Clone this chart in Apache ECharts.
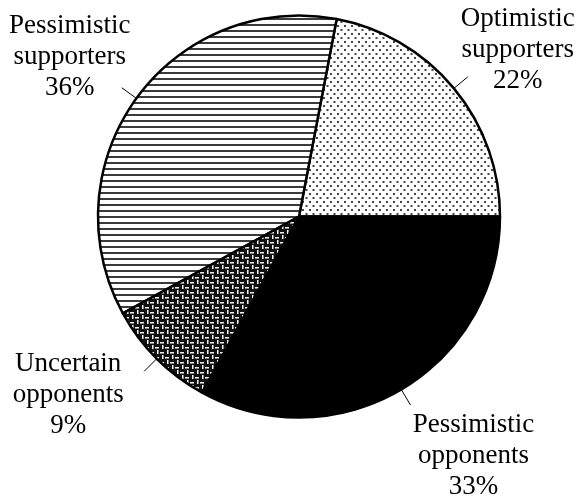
<!DOCTYPE html>
<html><head><meta charset="utf-8">
<script src="https://cdn.jsdelivr.net/npm/echarts@6/dist/echarts.min.js"></script>
<style>html,body{margin:0;padding:0;background:#fff}#c{width:584px;height:502px}</style>
</head><body><div id="c"></div>
<script>
// ---- data ----
const categories = ['Optimistic supporters', 'Pessimistic supporters', 'Uncertain opponents', 'Pessimistic opponents'];
const shares = [22, 36, 9, 33];

// ---- layout (label offsets from leader-line end, px) ----
const labelOffsets = [[50, -27], [-52, -31], [-76, 24], [63, 51]];

// ---- fill patterns ----
function makeTile(w, h, draw) {
  const c = document.createElement('canvas');
  c.width = w; c.height = h;
  const g = c.getContext('2d');
  draw(g, w, h);
  return { image: c, repeat: 'repeat' };
}
const dotFill = makeTile(7, 8, (g) => {
  g.fillStyle = '#fff'; g.fillRect(0, 0, 7, 8);
  g.fillStyle = '#444';
  g.fillRect(1, 1, 2, 2);
  g.fillRect(4.5, 5, 2, 2);
});
const stripeFill = makeTile(6, 6, (g) => {
  g.fillStyle = '#fff'; g.fillRect(0, 0, 6, 6);
  g.fillStyle = '#3a3a3a'; g.fillRect(0, 0, 6, 2);
});
const weaveFill = makeTile(10, 10, (g) => {
  g.fillStyle = '#111'; g.fillRect(0, 0, 10, 10);
  g.fillStyle = '#888';
  g.fillRect(0, 3, 4, 1);
  g.fillRect(8, 0, 1, 4);
  g.fillRect(3, 5, 1, 4);
  g.fillRect(5, 8, 4, 1);
  g.fillStyle = '#f2f2f2';
  g.fillRect(0, 2, 4, 1);
  g.fillRect(7, 0, 1, 4);
  g.fillRect(2, 5, 1, 4);
  g.fillRect(5, 7, 4, 1);
});
const fills = [dotFill, stripeFill, weaveFill, '#000'];

const chart = echarts.init(document.getElementById('c'), null, { renderer: 'canvas' });
chart.setOption({
  animation: false,
  backgroundColor: '#fff',
  series: [{
    type: 'pie',
    center: [299, 216.5],
    radius: 201,
    startAngle: 0,
    clockwise: false,
    avoidLabelOverlap: false,
    emphasis: { disabled: true },
    itemStyle: { borderColor: '#000', borderWidth: 2.5 },
    label: {
      show: true,
      position: 'outside',
      color: '#000',
      fontFamily: '"Liberation Serif", "DejaVu Serif", serif',
      fontSize: 27,
      lineHeight: 31,
      formatter: (p) => p.name.replace(' ', '\n') + '\n' + p.percent + '%'
    },
    labelLine: {
      show: true,
      length: 18,
      length2: 0,
      lineStyle: { color: '#000', width: 1 }
    },
    labelLayout: function (params) {
      const pts = params.labelLinePoints;
      if (!pts) return {};
      const end = pts[1];
      const o = labelOffsets[params.dataIndex];
      return {
        x: end[0] + o[0],
        y: end[1] + o[1],
        align: 'center',
        verticalAlign: 'middle',
        labelLinePoints: [pts[0], pts[1]]
      };
    },
    data: categories.map((name, i) => ({
      name: name,
      value: shares[i],
      itemStyle: { color: fills[i] }
    }))
  }]
});
</script>
</body></html>
